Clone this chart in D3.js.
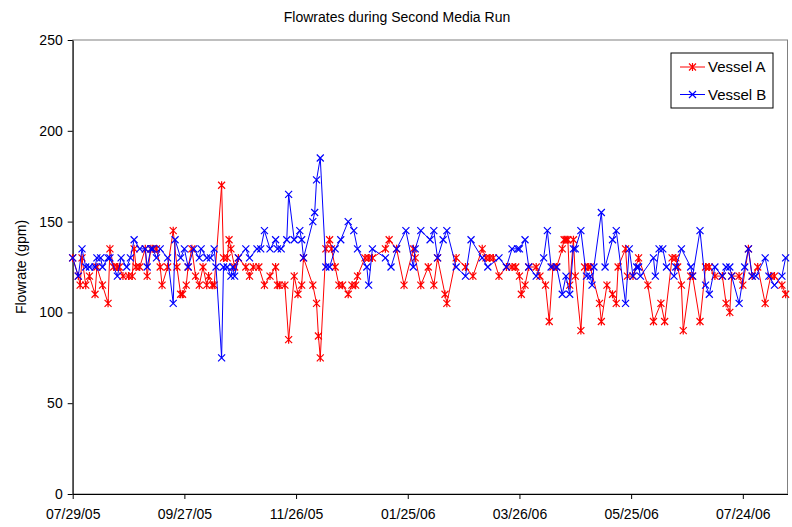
<!DOCTYPE html>
<html lang="en">
<head>
<meta charset="UTF-8">
<title>Flowrates during Second Media Run</title>
<script src="https://cdn.jsdelivr.net/npm/d3@7"></script>
<style>
    body { margin: 0; background: #fff; }
    svg { font-family: "Liberation Sans", Arial, sans-serif; }
</style>
</head>
<body>
<div id="chart"></div>
<script>
// Vessel A (red, asterisk markers)
var datesA = ["07/29/05","08/01/05","08/02/05","08/03/05","08/05/05","08/07/05","08/10/05","08/11/05","08/14/05","08/17/05",
    "08/18/05","08/20/05","08/22/05","08/23/05","08/25/05","08/28/05","08/30/05","08/31/05","09/01/05","09/03/05",
    "09/06/05","09/07/05","09/09/05","09/10/05","09/12/05","09/14/05","09/15/05","09/18/05","09/21/05","09/23/05",
    "09/25/05","09/26/05","09/28/05","09/29/05","10/01/05","10/03/05","10/05/05","10/07/05","10/09/05","10/10/05",
    "10/12/05","10/13/05","10/17/05","10/18/05","10/20/05","10/21/05","10/22/05","10/24/05","10/26/05","10/30/05",
    "11/01/05","11/03/05","11/06/05","11/09/05","11/12/05","11/15/05","11/16/05","11/17/05","11/20/05","11/22/05",
    "11/25/05","11/27/05","11/29/05","11/30/05","12/05/05","12/07/05","12/08/05","12/09/05","12/12/05","12/14/05",
    "12/15/05","12/17/05","12/19/05","12/21/05","12/24/05","12/26/05","12/28/05","12/29/05","01/02/06","01/04/06",
    "01/06/06","01/13/06","01/15/06","01/19/06","01/23/06","01/28/06","01/29/06","02/01/06","02/05/06","02/08/06",
    "02/10/06","02/14/06","02/15/06","02/20/06","02/25/06","03/01/06","03/06/06","03/08/06","03/10/06","03/12/06",
    "03/15/06","03/19/06","03/22/06","03/24/06","03/26/06","03/27/06","03/29/06","03/31/06","04/04/06","04/06/06",
    "04/09/06","04/11/06","04/13/06","04/15/06","04/18/06","04/19/06","04/20/06","04/21/06","04/22/06","04/24/06",
    "04/25/06","04/28/06","04/30/06","05/02/06","05/03/06","05/08/06","05/09/06","05/12/06","05/15/06","05/17/06",
    "05/18/06","05/22/06","05/23/06","05/26/06","05/29/06","06/03/06","06/06/06","06/10/06","06/12/06","06/16/06",
    "06/18/06","06/19/06","06/21/06","06/22/06","06/26/06","06/27/06","07/01/06","07/04/06","07/06/06","07/09/06",
    "07/13/06","07/15/06","07/17/06","07/18/06","07/22/06","07/24/06","07/27/06","07/29/06","08/01/06","08/05/06",
    "08/08/06","08/10/06","08/14/06","08/16/06"];
var valuesA = [130,120,115,130,115,120,110,125,115,105,
    135,125,125,125,120,120,120,135,125,125,
    135,120,135,135,135,125,115,125,145,125,
    110,110,115,125,135,120,115,125,115,120,
    115,115,170,130,130,140,135,125,130,125,
    120,125,125,115,120,125,115,115,115,85,
    120,110,115,130,115,105,87,75,135,140,
    135,125,115,115,110,115,115,120,130,130,
    130,135,140,135,115,135,130,115,125,115,
    130,110,105,130,125,120,135,130,130,130,
    120,125,125,125,120,110,115,125,125,120,
    115,95,125,125,135,140,140,140,115,140,
    120,90,125,125,125,105,95,115,110,105,
    125,135,120,120,130,115,95,105,95,130,
    130,125,115,90,120,120,95,125,125,120,
    120,105,100,120,120,115,135,120,125,105,
    120,120,115,110];

// Vessel B (blue, x markers)
var datesB = ["07/29/05","08/01/05","08/03/05","08/05/05","08/07/05","08/10/05","08/11/05","08/13/05","08/14/05","08/17/05",
    "08/18/05","08/22/05","08/24/05","08/27/05","08/29/05","08/31/05","09/03/05","09/06/05","09/07/05","09/09/05",
    "09/10/05","09/12/05","09/14/05","09/18/05","09/21/05","09/22/05","09/25/05","09/27/05","09/29/05","10/02/05",
    "10/05/05","10/06/05","10/09/05","10/11/05","10/13/05","10/14/05","10/17/05","10/18/05","10/20/05","10/22/05",
    "10/23/05","10/24/05","10/26/05","10/30/05","11/01/05","11/05/05","11/07/05","11/09/05","11/12/05","11/15/05",
    "11/16/05","11/18/05","11/21/05","11/22/05","11/25/05","11/28/05","11/29/05","11/30/05","12/05/05","12/06/05",
    "12/07/05","12/09/05","12/12/05","12/14/05","12/17/05","12/20/05","12/24/05","12/27/05","12/29/05","01/03/06",
    "01/04/06","01/06/06","01/13/06","01/16/06","01/19/06","01/24/06","01/28/06","01/29/06","02/01/06","02/06/06",
    "02/08/06","02/10/06","02/13/06","02/15/06","02/20/06","02/25/06","02/28/06","03/06/06","03/09/06","03/15/06",
    "03/19/06","03/22/06","03/25/06","03/26/06","03/29/06","03/31/06","04/04/06","04/08/06","04/10/06","04/12/06",
    "04/15/06","04/18/06","04/20/06","04/22/06","04/24/06","04/25/06","04/28/06","05/01/06","05/03/06","05/04/06",
    "05/05/06","05/09/06","05/11/06","05/15/06","05/17/06","05/22/06","05/24/06","05/26/06","05/28/06","05/29/06",
    "05/30/06","06/06/06","06/07/06","06/09/06","06/11/06","06/13/06","06/17/06","06/18/06","06/21/06","06/26/06",
    "06/27/06","07/01/06","07/04/06","07/06/06","07/09/06","07/13/06","07/15/06","07/17/06","07/18/06","07/22/06",
    "07/25/06","07/27/06","07/29/06","07/31/06","08/05/06","08/07/06","08/10/06","08/14/06","08/16/06"];
var valuesB = [130,120,135,125,125,125,130,130,125,130,
    130,120,130,125,130,140,135,135,125,135,
    135,130,135,130,105,140,130,135,125,135,
    130,135,130,130,135,125,75,125,125,120,
    125,120,130,135,130,135,135,145,135,140,
    135,135,140,165,140,145,140,130,150,155,
    173,185,125,125,135,140,150,145,135,125,
    115,135,130,125,135,145,125,135,145,140,
    145,130,140,145,125,120,140,130,125,130,
    125,135,135,135,140,125,120,130,145,125,
    125,110,120,110,135,135,145,120,120,115,
    125,155,125,140,145,105,135,120,125,125,
    120,130,120,135,135,125,120,125,135,125,
    120,145,115,110,125,120,125,125,120,105,
    125,135,120,120,130,120,115,120,130];

var xTickLabels = ["07/29/05","09/27/05","11/26/05","01/25/06","03/26/06","05/25/06","07/24/06"];
var xEnd = "08/17/06";
var yTicks = [0, 50, 100, 150, 200, 250];

var width = 792, height = 527;
var margin = {top: 40, right: 4.5, bottom: 33, left: 72.7};
var parse = d3.timeParse("%m/%d/%y");
var fmt = d3.timeFormat("%m/%d/%y");

var seriesA = datesA.map((d, i) => ({date: parse(d), value: valuesA[i]}));
var seriesB = datesB.map((d, i) => ({date: parse(d), value: valuesB[i]}));

var x = d3.scaleTime()
    .domain([parse(xTickLabels[0]), parse(xEnd)])
    .range([margin.left, width - margin.right]);

var y = d3.scaleLinear()
    .domain([0, 250])
    .range([height - margin.bottom, margin.top]);

var svg = d3.select("#chart").append("svg")
    .attr("width", width)
    .attr("height", height)
    .attr("viewBox", [0, 0, width, height]);

// plot area frame
svg.append("rect")
    .attr("x", margin.left)
    .attr("y", margin.top)
    .attr("width", width - margin.right - margin.left)
    .attr("height", height - margin.bottom - margin.top)
    .attr("fill", "none")
    .attr("stroke", "#808080");

svg.append("text")
    .attr("x", 397)
    .attr("y", 22)
    .attr("text-anchor", "middle")
    .attr("font-size", 14)
    .text("Flowrates during Second Media Run");

svg.append("text")
    .attr("transform", `translate(26,${(margin.top + height - margin.bottom) / 2}) rotate(-90)`)
    .attr("text-anchor", "middle")
    .attr("font-size", 14)
    .text("Flowrate (gpm)");

var yAxis = g => g
    .attr("transform", `translate(${margin.left},0)`)
    .call(d3.axisLeft(y).tickValues(yTicks).tickSize(5).tickSizeOuter(0).tickPadding(5))
    .call(g => g.selectAll("text").attr("font-size", 14).attr("fill", "#000"))
    .call(g => g.selectAll("line, path").attr("stroke", "#000"));

var xAxis = g => g
    .attr("transform", `translate(0,${height - margin.bottom})`)
    .call(d3.axisBottom(x).tickValues(xTickLabels.map(parse)).tickFormat(fmt).tickSize(5).tickSizeOuter(0).tickPadding(10))
    .call(g => g.selectAll("text").attr("font-size", 14).attr("fill", "#000"))
    .call(g => g.selectAll("line, path").attr("stroke", "#000"));

svg.append("g").call(yAxis).attr("font-family", null);
svg.append("g").call(xAxis).attr("font-family", null);

var line = d3.line()
    .x(d => x(d.date))
    .y(d => y(d.value));

// marker shapes
var s = 3.5;
function crossPath(cx, cy) {
    return `M${cx - s},${cy - s}L${cx + s},${cy + s}M${cx - s},${cy + s}L${cx + s},${cy - s}`;
}
function starPath(cx, cy) {
    return crossPath(cx, cy) + `M${cx},${cy - s - 0.5}L${cx},${cy + s + 0.5}`;
}

function drawSeries(data, color, marker) {
    var g = svg.append("g");
    g.append("path")
        .datum(data)
        .attr("fill", "none")
        .attr("stroke", color)
        .attr("stroke-width", 1)
        .attr("d", line);
    g.selectAll("path.m")
        .data(data)
        .join("path")
        .attr("class", "m")
        .attr("fill", "none")
        .attr("stroke", color)
        .attr("stroke-width", 1.2)
        .attr("d", d => marker(x(d.date), y(d.value)));
}

drawSeries(seriesA, "#ff0000", starPath);
drawSeries(seriesB, "#0000ff", crossPath);

// legend
var legend = svg.append("g");
legend.append("rect")
    .attr("x", 671)
    .attr("y", 53)
    .attr("width", 102)
    .attr("height", 55)
    .attr("fill", "#fff")
    .attr("stroke", "#000");

var legendItems = [
    {name: "Vessel A", color: "#ff0000", marker: starPath},
    {name: "Vessel B", color: "#0000ff", marker: crossPath}
];
legendItems.forEach((it, i) => {
    var ly = 67 + i * 27.5;
    legend.append("line")
        .attr("x1", 680).attr("x2", 705)
        .attr("y1", ly).attr("y2", ly)
        .attr("stroke", it.color);
    legend.append("path")
        .attr("fill", "none")
        .attr("stroke", it.color)
        .attr("stroke-width", 1.2)
        .attr("d", it.marker(692.5, ly));
    legend.append("text")
        .attr("x", 708)
        .attr("y", ly + 5)
        .attr("font-size", 15)
        .text(it.name);
});
</script>
</body>
</html>
